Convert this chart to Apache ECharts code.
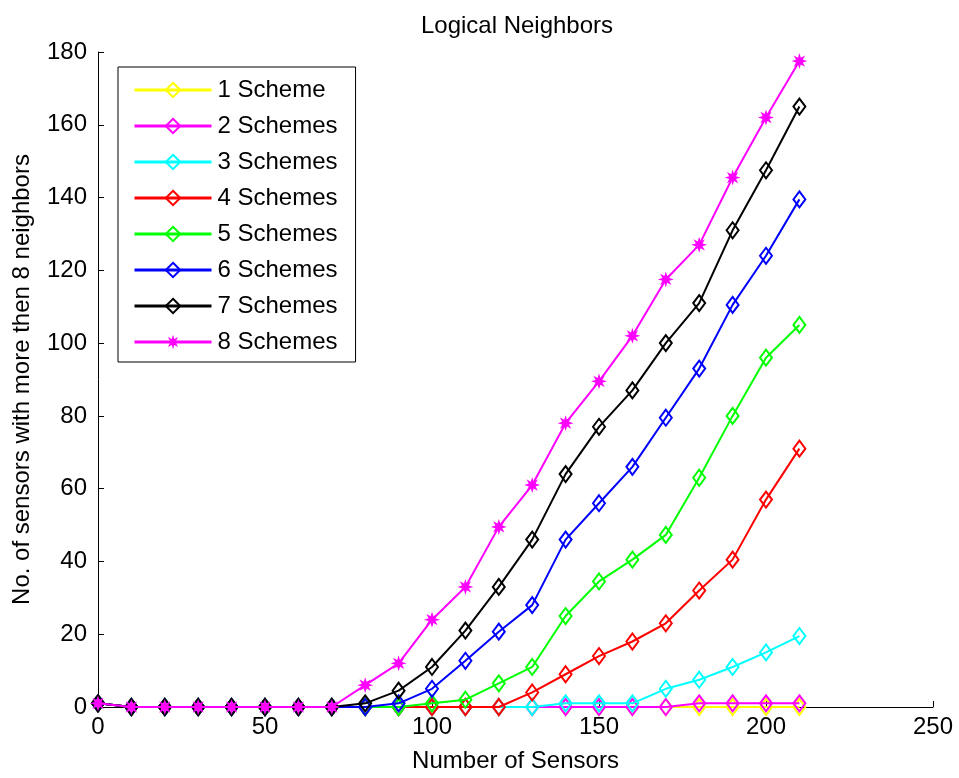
<!DOCTYPE html>
<html>
<head>
<meta charset="utf-8">
<title>Logical Neighbors</title>
<script src="https://cdn.jsdelivr.net/npm/echarts@6/dist/echarts.min.js"></script>
<style>
  html, body { margin: 0; padding: 0; background: #fff; }
  #chart { width: 959px; height: 778px; }
</style>
</head>
<body>
<div id="chart"></div>
<script>
// Number of sensors deployed (x axis)
const sensors = [0, 10, 20, 30, 40, 50, 60, 70, 80, 90, 100, 110, 120, 130, 140, 150, 160, 170, 180, 190, 200, 210];

// Sensors with more than 8 logical neighbors, per number of key schemes
const scheme1 = [1, 0, 0, 0, 0, 0, 0, 0, 0, 0, 0, 0, 0, 0, 0, 0, 0, 0, 0, 0, 0, 0];
const scheme2 = [1, 0, 0, 0, 0, 0, 0, 0, 0, 0, 0, 0, 0, 0, 0, 0, 0, 0, 1, 1, 1, 1];
const scheme3 = [1, 0, 0, 0, 0, 0, 0, 0, 0, 0, 0, 0, 0, 0, 1, 1, 1, 5, 7.5, 11, 15, 19.5];
const scheme4 = [1, 0, 0, 0, 0, 0, 0, 0, 0, 0, 0, 0, 0, 4, 9, 14, 18, 23, 32, 40.5, 57, 71];
const scheme5 = [1, 0, 0, 0, 0, 0, 0, 0, 0, 0, 1, 2, 6.5, 11, 25, 34.5, 40.5, 47.3, 63, 80, 96, 105];
const scheme6 = [1, 0, 0, 0, 0, 0, 0, 0, 0, 1, 5, 12.7, 20.7, 28, 46, 56, 66, 79.5, 93, 110.5, 124, 139.5];
const scheme7 = [1, 0, 0, 0, 0, 0, 0, 0, 1, 4.5, 11, 21, 33, 46, 64, 77, 87, 100, 111, 131, 147.5, 165];
const scheme8 = [1, 0, 0, 0, 0, 0, 0, 0, 6, 12, 24, 33, 49.5, 61, 78, 89.5, 102, 117.5, 127, 145.5, 162, 177.5];

const seriesNames = ['1 Scheme', '2 Schemes', '3 Schemes', '4 Schemes', '5 Schemes', '6 Schemes', '7 Schemes', '8 Schemes'];
const seriesValues = [scheme1, scheme2, scheme3, scheme4, scheme5, scheme6, scheme7, scheme8];
const seriesColors = ['#ffff00', '#ff00ff', '#00ffff', '#ff0000', '#00ff00', '#0000ff', '#000000', '#ff00ff'];

// Axis tick values
const xTicks = [0, 50, 100, 150, 200, 250];
const yTicks = [0, 20, 40, 60, 80, 100, 120, 140, 160, 180];

// Eight-pointed star marker built as an SVG path
function starPath(outer, inner) {
  const pts = [];
  for (let k = 0; k < 16; k++) {
    const r = k % 2 === 0 ? outer : inner;
    const a = (Math.PI / 8) * k - Math.PI / 2;
    pts.push((outer + r * Math.cos(a)).toFixed(2) + ',' + (outer + r * Math.sin(a)).toFixed(2));
  }
  return 'path://M' + pts.join('L') + 'Z';
}
const STAR = starPath(10, 4.6);

const FONT = '"Liberation Sans", Arial, Helvetica, sans-serif';

const series = seriesNames.map((name, i) => {
  const isStar = i === 7;
  return {
    name: name,
    type: 'line',
    data: sensors.map((x, j) => [x, seriesValues[i][j]]),
    symbol: isStar ? STAR : 'diamond',
    symbolSize: isStar ? 16 : [12, 16],
    showAllSymbol: true,
    animation: false,
    lineStyle: { color: seriesColors[i], width: 2 },
    itemStyle: isStar
      ? { color: seriesColors[i], borderColor: seriesColors[i], borderWidth: 0 }
      : { color: 'rgba(255,255,255,0)', borderColor: seriesColors[i], borderWidth: 2 },
    emphasis: { disabled: true },
    z: 2 + i
  };
});

const chart = echarts.init(document.getElementById('chart'), null, { renderer: 'canvas' });
chart.setOption({
  backgroundColor: '#ffffff',
  animation: false,
  textStyle: { fontFamily: FONT, color: '#000' },
  title: {
    text: 'Logical Neighbors',
    left: 512,
    textAlign: 'center',
    top: 9,
    textStyle: { fontFamily: FONT, fontSize: 24, fontWeight: 'normal', color: '#000' }
  },
  grid: { left: 98, right: 26, top: 52, bottom: 71, containLabel: false },
  legend: {
    orient: 'vertical',
    left: 118,
    top: 67,
    padding: [11, 18, 8, 15],
    itemWidth: 77,
    itemHeight: 18,
    itemGap: 12,
    borderColor: '#000',
    borderWidth: 1,
    backgroundColor: '#fff',
    selectedMode: false,
    lineStyle: { width: 3 },
    textStyle: { fontFamily: FONT, fontSize: 24, color: '#000', padding: [0, 0, 0, 1] },
    data: seriesNames
  },
  xAxis: {
    type: 'value',
    min: 0,
    max: 250,
    interval: 50,
    name: 'Number of Sensors',
    nameLocation: 'middle',
    nameGap: 42,
    nameTextStyle: { fontFamily: FONT, fontSize: 24, color: '#000' },
    axisLine: { show: true, onZero: false, lineStyle: { color: '#000', width: 1 } },
    axisTick: { show: true, inside: true, length: 6, lineStyle: { color: '#000' } },
    axisLabel: {
      margin: 8,
      fontFamily: FONT,
      fontSize: 24,
      color: '#000',
      formatter: v => (xTicks.indexOf(v) >= 0 ? String(v) : '')
    },
    splitLine: { show: false }
  },
  yAxis: {
    type: 'value',
    min: 0,
    max: 180,
    interval: 20,
    name: 'No. of sensors with more then 8 neighbors',
    nameLocation: 'middle',
    nameGap: 64,
    nameTextStyle: { fontFamily: FONT, fontSize: 24, color: '#000' },
    axisLine: { show: true, onZero: false, lineStyle: { color: '#000', width: 1 } },
    axisTick: { show: true, inside: true, length: 6, lineStyle: { color: '#000' } },
    axisLabel: {
      margin: 11,
      fontFamily: FONT,
      fontSize: 24,
      color: '#000',
      formatter: v => (yTicks.indexOf(v) >= 0 ? String(v) : '')
    },
    splitLine: { show: false }
  },
  series: series
});
</script>
</body>
</html>
